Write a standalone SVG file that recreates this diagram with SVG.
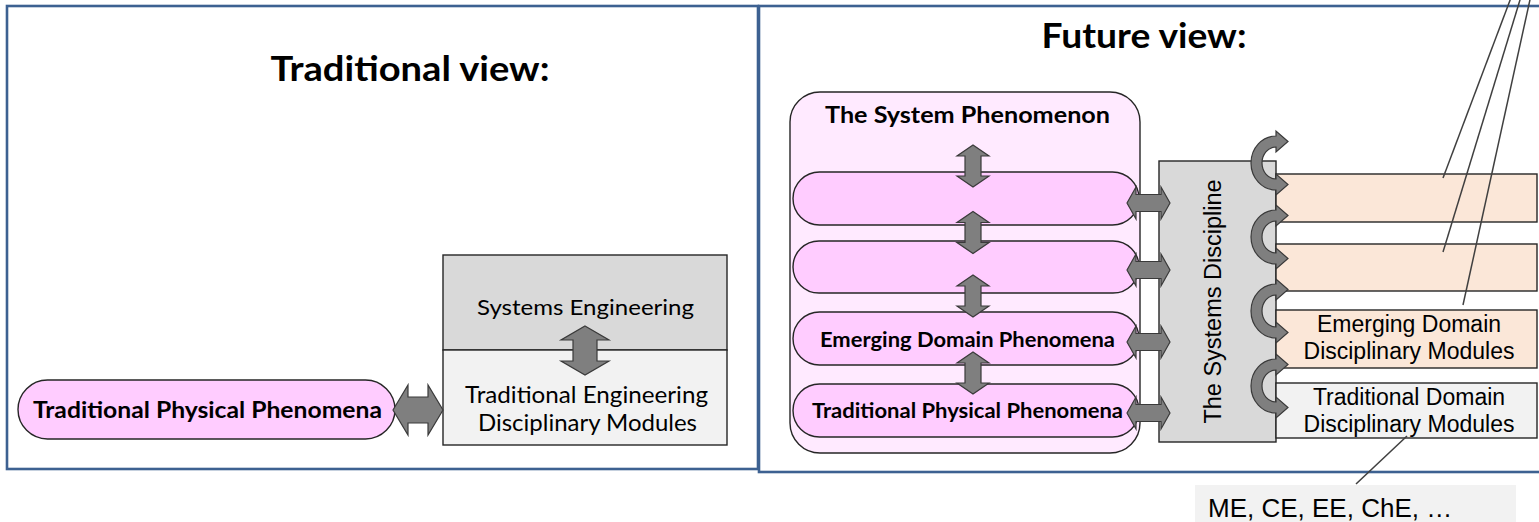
<svg xmlns="http://www.w3.org/2000/svg" xmlns:xlink="http://www.w3.org/1999/xlink" width="1539" height="522" viewBox="0 0 1539 522">
<style>
.frame{fill:none;stroke:#3d6191;stroke-width:2.6}
.box{stroke:#262626;stroke-width:1.4}
.arrow{fill:#7f7f7f;stroke:#3a3a3a;stroke-width:1.2;stroke-linejoin:miter}
.leader{stroke:#404040;stroke-width:1.5;fill:none}
.cal{font-family:Lato,"Open Sans","Liberation Sans",sans-serif;fill:#000}
.calb{font-family:Lato,"Open Sans","Liberation Sans",sans-serif;font-weight:bold;fill:#000}
.ari{font-family:"Liberation Sans",Arial,sans-serif;fill:#000}
</style>
<defs>
<polygon id="vArrowSmall" class="arrow" points="973,0 989,11 981,11 981,31 989,31 973,42 957,31 965,31 965,11 957,11"/>
<polygon id="hArrowSmall" class="arrow" points="1127,0 1136,-16 1136,-8.5 1161,-8.5 1161,-16 1170,0 1161,16 1161,8.5 1136,8.5 1136,16"/>
<path id="curvedArrow" class="arrow" d="M1288,-21.5 L1276,-32 L1276,-27 A25 27 0 0 0 1276,27 L1276,32 L1288,21.5 L1276,11 L1276,16 A14 16 0 0 1 1276,-16 L1276,-11 Z"/>
</defs>

<g id="frames">
<rect class="frame" x="7" y="6" width="751" height="463"/>
<rect class="frame" x="759" y="6" width="790" height="466"/>
</g>

<g id="title-traditional"><text class="calb" x="410" y="81" font-size="34" text-anchor="middle" textLength="279" lengthAdjust="spacingAndGlyphs">Traditional view:</text></g>
<g id="title-future"><text class="calb" x="1144" y="48" font-size="34" text-anchor="middle" textLength="205" lengthAdjust="spacingAndGlyphs">Future view:</text></g>

<!-- Left panel -->
<g id="systems-engineering">
<rect class="box" x="443" y="255" width="284" height="95" fill="#d9d9d9"/>
<text class="cal" x="585.5" y="315" font-size="22" text-anchor="middle" textLength="217" lengthAdjust="spacingAndGlyphs">Systems Engineering</text>
</g>
<g id="traditional-engineering-modules">
<rect class="box" x="443" y="350" width="284" height="95" fill="#f2f2f2"/>
<text class="cal" x="586.5" y="403" font-size="22.5" text-anchor="middle" textLength="243" lengthAdjust="spacingAndGlyphs">Traditional Engineering</text>
<text class="cal" x="587.5" y="431" font-size="22.5" text-anchor="middle" textLength="219" lengthAdjust="spacingAndGlyphs">Disciplinary Modules</text>
</g>
<g id="traditional-physical-left">
<rect class="box" x="18" y="380" width="377" height="59" rx="29.5" fill="#ffccff"/>
<text class="calb" x="207.5" y="418" font-size="23.5" text-anchor="middle" textLength="349" lengthAdjust="spacingAndGlyphs">Traditional Physical Phenomena</text>
</g>

<!-- Right panel -->
<g id="system-phenomenon">
<rect class="box" x="790" y="92" width="350" height="361" rx="30" fill="#ffeaff"/>
<text class="calb" x="967.5" y="123" font-size="23" text-anchor="middle" textLength="285" lengthAdjust="spacingAndGlyphs">The System Phenomenon</text>
</g>
<g id="pill-1"><rect class="box" x="793" y="172" width="346" height="53" rx="26.5" fill="#ffccff"/></g>
<g id="pill-2"><rect class="box" x="793" y="241" width="346" height="52" rx="26" fill="#ffccff"/></g>
<g id="pill-emerging">
<rect class="box" x="793" y="312" width="346" height="53" rx="26.5" fill="#ffccff"/>
<text class="calb" x="967.5" y="347" font-size="21" text-anchor="middle" textLength="295" lengthAdjust="spacingAndGlyphs">Emerging Domain Phenomena</text>
</g>
<g id="pill-traditional">
<rect class="box" x="793" y="384" width="346" height="53" rx="26.5" fill="#ffccff"/>
<text class="calb" x="967.5" y="418" font-size="21" text-anchor="middle" textLength="311" lengthAdjust="spacingAndGlyphs">Traditional Physical Phenomena</text>
</g>

<g id="systems-discipline">
<rect class="box" x="1159" y="161" width="117" height="281" fill="#d9d9d9"/>
<text class="ari" transform="translate(1221,301.5) rotate(-90)" font-size="23.5" text-anchor="middle">The Systems Discipline</text>
</g>

<g id="module-1"><rect class="box" x="1276" y="174" width="261" height="48" fill="#fbe7d8"/></g>
<g id="module-2"><rect class="box" x="1276" y="244" width="261" height="47" fill="#fbe7d8"/></g>
<g id="module-emerging">
<rect class="box" x="1276" y="310" width="261" height="58" fill="#fbe7d8"/>
<text class="ari" x="1409" y="332" font-size="23" text-anchor="middle">Emerging Domain</text>
<text class="ari" x="1409" y="359" font-size="23" text-anchor="middle">Disciplinary Modules</text>
</g>
<g id="module-traditional">
<rect class="box" x="1276" y="383" width="261" height="55" fill="#f2f2f2"/>
<text class="ari" x="1409" y="405" font-size="23" text-anchor="middle">Traditional Domain</text>
<text class="ari" x="1409" y="432" font-size="23" text-anchor="middle">Disciplinary Modules</text>
</g>

<g id="disciplines-note">
<rect x="1195" y="485" width="321" height="45" fill="#f2f2f2"/>
<text class="ari" x="1208" y="517" font-size="26">ME, CE, EE, ChE, …</text>
</g>

<g id="connectors">
<polygon class="arrow" points="585,326 609,340 597,340 597,361 609,361 585,375 561,361 573,361 573,340 561,340"/>
<polygon class="arrow" points="393,410 408,385 408,397 428,397 428,385 443,410 428,435 428,423 408,423 408,435"/>
<use xlink:href="#vArrowSmall" transform="translate(0,145)"/>
<use xlink:href="#vArrowSmall" transform="translate(0,211.5)"/>
<use xlink:href="#vArrowSmall" transform="translate(0,275)"/>
<use xlink:href="#vArrowSmall" transform="translate(0,352)"/>
<use xlink:href="#hArrowSmall" transform="translate(0,203)"/>
<use xlink:href="#hArrowSmall" transform="translate(0,270)"/>
<use xlink:href="#hArrowSmall" transform="translate(0,342)"/>
<use xlink:href="#hArrowSmall" transform="translate(0,413)"/>
<use xlink:href="#curvedArrow" transform="translate(0,163)"/>
<use xlink:href="#curvedArrow" transform="translate(0,237)"/>
<use xlink:href="#curvedArrow" transform="translate(0,311)"/>
<use xlink:href="#curvedArrow" transform="translate(0,386)"/>
<line class="leader" x1="1512" y1="-5" x2="1443" y2="178"/>
<line class="leader" x1="1521.5" y1="-5" x2="1443" y2="252"/>
<line class="leader" x1="1531" y1="-5" x2="1463" y2="305"/>
<line class="leader" x1="1407" y1="436" x2="1356" y2="484"/>
</g>
</svg>
